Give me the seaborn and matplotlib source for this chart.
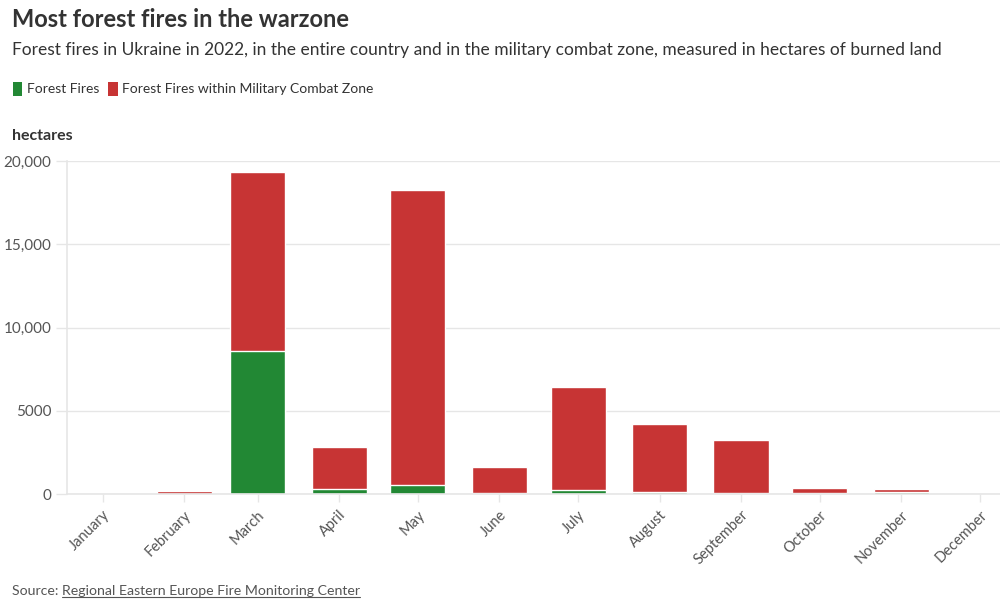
import matplotlib
matplotlib.use("Agg")
import matplotlib.pyplot as plt
from matplotlib.patches import Patch
from matplotlib.lines import Line2D
import seaborn as sns
import pandas as pd

months = ["January", "February", "March", "April", "May", "June", "July",
          "August", "September", "October", "November", "December"]
month_starts = ["2022-01-01", "2022-02-01", "2022-03-01", "2022-04-01", "2022-05-01",
                "2022-06-01", "2022-07-01", "2022-08-01", "2022-09-01", "2022-10-01",
                "2022-11-01", "2022-12-01"]
forest_fires = [0, 0, 8590, 280, 540, 90, 240, 100, 80, 60, 100, 0]
combat_zone = [0, 200, 10750, 2520, 17720, 1510, 6190, 4085, 3145, 320, 200, 0]
yticks = [0, 5000, 10000, 15000, 20000]
ytick_labels = ["0", "5000", "10,000", "15,000", "20,000"]

GREEN = "#228834"
RED = "#c73434"
TXT = "#333333"
GRAY = "#555555"

sns.set_theme(style="white")
plt.rcParams["font.family"] = ["Lato", "DejaVu Sans"]

df = pd.DataFrame({"month": months, "green": forest_fires, "red": combat_zone})
df["day"] = pd.to_datetime(pd.Series(month_starts)).dt.dayofyear - 1
df["total"] = df["green"] + df["red"]

fig = plt.figure(figsize=(10, 6.04), dpi=100)
ax = fig.add_axes([0.0667, 0.1821, 0.9333, 0.5513])

bw = 21.0 / 28.0
sns.barplot(data=df, x="day", y="total", color=RED, saturation=1, width=bw,
            native_scale=True, edgecolor="white", linewidth=1.0, ax=ax)
sns.barplot(data=df, x="day", y="green", color=GREEN, saturation=1, width=bw,
            native_scale=True, edgecolor="white", linewidth=1.0, ax=ax)

ax.set_xlim(-13.7, 341.6)
ax.set_ylim(0, 20000)
ax.set_yticks(yticks)
ax.set_yticklabels(ytick_labels, fontsize=11, color=GRAY)
ax.set_xticks(df["day"].tolist())
ax.set_xticklabels(months, rotation=45, ha="right", rotation_mode="anchor",
                   fontsize=10.5, color=GRAY)
ax.set_xlabel("")
ax.set_ylabel("")
ax.grid(axis="y", color="#e6e6e6", linewidth=1)
ax.grid(axis="x", visible=False)
ax.set_axisbelow(True)
for s in ["top", "right"]:
    ax.spines[s].set_visible(False)
ax.spines["left"].set_color("#e6e6e6")
ax.spines["bottom"].set_color("#e6e6e6")
ax.spines["left"].set_linewidth(1.2)
ax.spines["bottom"].set_linewidth(1.2)
ax.tick_params(axis="y", length=8, color="#e6e6e6", width=1, pad=3, left=True)
ax.tick_params(axis="x", length=6, color="#e6e6e6", width=1, pad=4, bottom=True)

fig.text(0.012, 0.968, "Most forest fires in the warzone", fontsize=17,
         fontweight="bold", color=TXT, va="center")
fig.text(0.012, 0.917, "Forest fires in Ukraine in 2022, in the entire country and in the military combat zone, measured in hectares of burned land",
         fontsize=12.5, color=TXT, va="center")
handles = [Patch(facecolor=GREEN, edgecolor="none", label="Forest Fires"),
           Patch(facecolor=RED, edgecolor="none", label="Forest Fires within Military Combat Zone")]
fig.legend(handles=handles, loc="center left", bbox_to_anchor=(0.0, 0.853), ncol=2,
           frameon=False, fontsize=10, handlelength=0.7, handleheight=1.15,
           handletextpad=0.35, columnspacing=0.6, labelcolor=TXT)
fig.text(0.012, 0.775, "hectares", fontsize=11.5, fontweight="bold", color=TXT, va="center")

t1 = fig.text(0.012, 0.015, "Source: ", fontsize=10.2, color=GRAY, va="baseline")
fig.canvas.draw()
r = fig.canvas.get_renderer()
bb = t1.get_window_extent(renderer=r)
x2 = bb.x1 / fig.bbox.width
t2 = fig.text(x2, 0.015, "Regional Eastern Europe Fire Monitoring Center", fontsize=10.2,
              color=GRAY, va="baseline")
fig.canvas.draw()
bb2 = t2.get_window_extent(renderer=r)
yl = 0.015 - 2.5 / fig.bbox.height
fig.add_artist(Line2D([bb2.x0 / fig.bbox.width, bb2.x1 / fig.bbox.width], [yl, yl],
                      color=GRAY, linewidth=0.8, transform=fig.transFigure))

fig.savefig("out.png", dpi=100)
